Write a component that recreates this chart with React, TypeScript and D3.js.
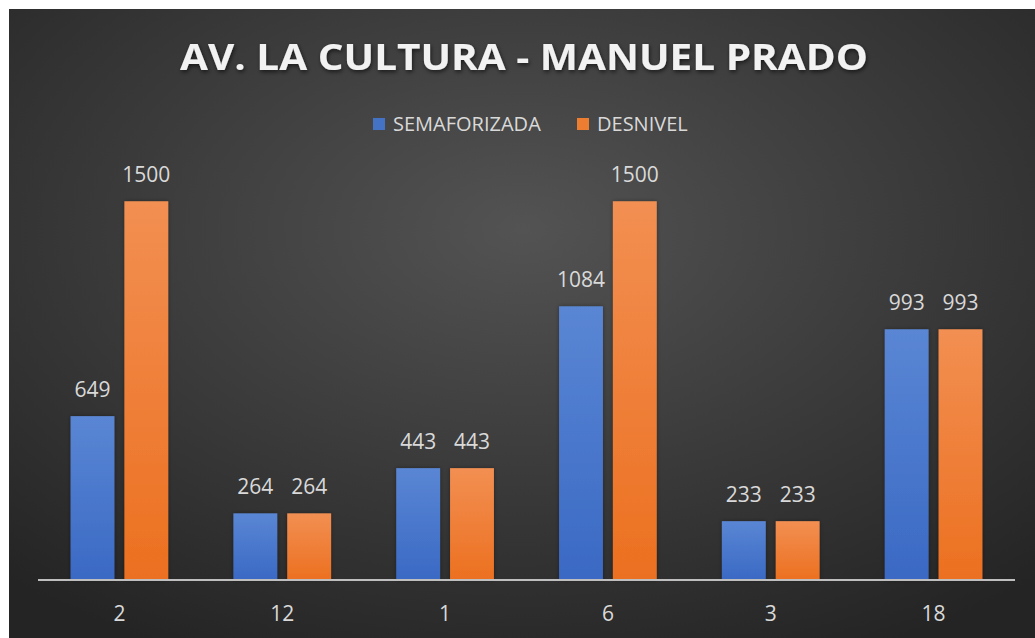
import * as d3 from 'd3'

const categories = ['2', '12', '1', '6', '3', '18']
const seriesNames = ['SEMAFORIZADA', 'DESNIVEL']
const semaforizada = [649, 264, 443, 1084, 233, 993]
const desnivel = [1500, 264, 443, 1500, 233, 993]
const title = 'AV. LA CULTURA - MANUEL PRADO'

const W = 1026
const H = 629
const OX = 9
const OY = 9
const font = '"Open Sans", "DejaVu Sans", sans-serif'

export default function App() {
  // page coords -> svg coords
  const left = 38 - OX
  const right = 1015 - OX
  const base = 580 - OY
  const top = 176 - OY

  const x0 = d3.scaleBand<string>().domain(categories).range([left, right]).paddingInner(0.4).paddingOuter(0.2)
  const x1 = d3.scaleBand<string>().domain(seriesNames).range([0, x0.bandwidth()]).paddingInner(0.185)
  const y = d3.scaleLinear().domain([0, 1600]).range([base, top])

  const values = [semaforizada, desnivel]
  const fills = ['url(#gBlue)', 'url(#gOrange)']
  const legendFill = ['#4472C4', '#ED7D31']

  return (
    <svg width={W} height={H} style={{ position: 'absolute', left: OX, top: OY, display: 'block' }}>
      <defs>
        <radialGradient id="bg" cx="50%" cy="35%" r="75%">
          <stop offset="0%" stopColor="#535353" />
          <stop offset="100%" stopColor="#242424" />
        </radialGradient>
        <linearGradient id="gBlue" x1="0" y1="0" x2="0" y2="1">
          <stop offset="0%" stopColor="#5a86d4" />
          <stop offset="100%" stopColor="#3a69c4" />
        </linearGradient>
        <linearGradient id="gOrange" x1="0" y1="0" x2="0" y2="1">
          <stop offset="0%" stopColor="#f28f52" />
          <stop offset="100%" stopColor="#ec7020" />
        </linearGradient>
        <filter id="shadow" x="-10%" y="-30%" width="120%" height="160%">
          <feDropShadow dx="1" dy="2" stdDeviation="2" floodColor="#000" floodOpacity="0.6" />
        </filter>
        <filter id="barShadow" x="-20%" y="-5%" width="140%" height="110%">
          <feDropShadow dx="0" dy="0" stdDeviation="2" floodColor="#000" floodOpacity="0.35" />
        </filter>
      </defs>
      <rect width={W} height={H} fill="url(#bg)" />

      <text x={524 - OX} y={70 - OY} textAnchor="middle" fontFamily={font} fontWeight={700}
        fontSize={36} fill="#f2f2f2" filter="url(#shadow)" textLength={688} lengthAdjust="spacingAndGlyphs">
        {title}
      </text>

      {/* legend */}
      {seriesNames.map((s, i) => {
        const lx = (i === 0 ? 373 : 577) - OX
        return (
          <g key={s}>
            <rect x={lx} y={118 - OY} width={12} height={12} fill={legendFill[i]} />
            <text x={lx + 20} y={131 - OY} fontFamily={font} fontSize={20} fill="#d9d9d9">{s}</text>
          </g>
        )
      })}

      {/* bars */}
      {categories.map((c, ci) => (
        <g key={c} transform={`translate(${x0(c)},0)`}>
          {seriesNames.map((s, si) => {
            const v = values[si][ci]
            const bx = x1(s) as number
            return (
              <g key={s}>
                <rect x={bx} y={y(v)} width={x1.bandwidth()} height={base - y(v)}
                  fill={fills[si]} filter="url(#barShadow)" />
                <text x={bx + x1.bandwidth() / 2} y={y(v) - 19} textAnchor="middle"
                  fontFamily={font} fontSize={21} fill="#d9d9d9">{v}</text>
              </g>
            )
          })}
          <text x={x0.bandwidth() / 2} y={621 - OY} textAnchor="middle" fontFamily={font}
            fontSize={21} fill="#d9d9d9">{c}</text>
        </g>
      ))}

      <line x1={left} x2={right} y1={base} y2={base} stroke="#bfbfbf" strokeWidth={2} />
    </svg>
  )
}
